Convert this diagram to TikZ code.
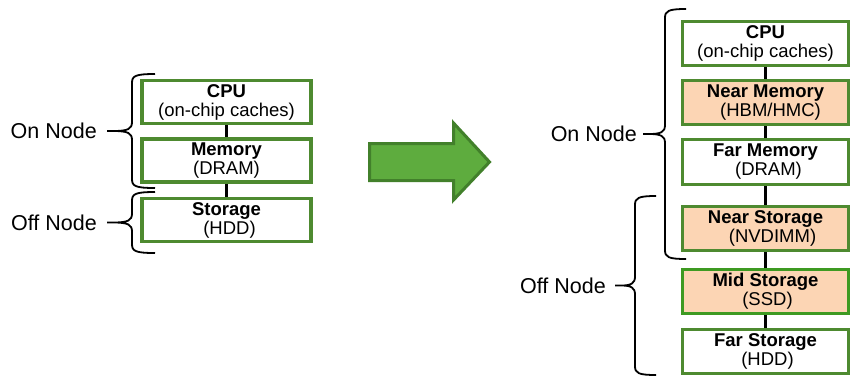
\documentclass[tikz,border=0pt]{standalone}
\usepackage{fontspec}
\setmainfont{Liberation Sans}
\definecolor{tierline}{HTML}{4E8A30}
\definecolor{tierlinebright}{HTML}{3E9A22}
\definecolor{peach}{HTML}{FCD5B4}
\definecolor{arrowfill}{HTML}{5EAC3E}
\definecolor{arrowedge}{HTML}{42802B}
% curly brace: line x, hook end x, tip x, top y, bottom y, name of tip coordinate
\newcommand{\tierbrace}[6]{%
  \pgfmathsetmacro{\bmid}{(#4+#5)/2}%
  \draw[bracepen] (#2,#4) .. controls (#1+3,#4) and (#1,#4+2) .. (#1,#4+9)
    -- (#1,\bmid-9) .. controls (#1,\bmid-2) and (#1-4,\bmid) .. (#3+6,\bmid) -- (#3,\bmid)
    (#3+6,\bmid) .. controls (#1-4,\bmid) and (#1,\bmid+2) .. (#1,\bmid+9)
    -- (#1,#5-9) .. controls (#1,#5-2) and (#1+3,#5) .. (#2,#5);
  \coordinate (#6) at (#3,\bmid);}
\begin{document}
\begin{tikzpicture}[x=1pt,y=-1pt,
  every node/.style={font=\fontsize{18.5}{19}\selectfont},
  tierbox/.style={draw=tierline,fill=white,rectangle,align=center,inner sep=0pt},
  oldtier/.style={tierbox,line width=3.6pt,minimum width=169.5pt,minimum height=43pt},
  newtier/.style={tierbox,line width=2.6pt,minimum width=166.5pt,minimum height=44.5pt},
  neartier/.style={newtier,fill=peach},
  link/.style={line width=3.4pt,black},
  bracepen/.style={line width=1.8pt,black},
  sidelabel/.style={anchor=east,inner sep=0pt,font=\fontsize{21.5}{22}\selectfont}]
\useasboundingbox (0,0) rectangle (851,376);

% three-tier node on the left
\node[oldtier] (cpuA) at (226.5,102) {\textbf{CPU}\\(on-chip caches)};
\node[oldtier] (memA) at (226.5,160.5) {\textbf{Memory}\\(DRAM)};
\node[oldtier] (stoA) at (226.5,220) {\textbf{Storage}\\\hspace{6pt}(HDD)};
\draw[link] (cpuA.south) -- (memA.north);
\draw[link] (memA.south) -- (stoA.north);

\tierbrace{132}{155}{107}{74}{188}{onA}
\tierbrace{132}{155}{107}{192}{253}{offA}
\node[sidelabel] (onAlabel) at ([xshift=-10pt]onA) {On Node};
\node[sidelabel] (offAlabel) at ([xshift=-10pt]offA) {Off Node};

% block arrow
\draw[arrowedge,fill=arrowfill,line width=3pt,line join=miter]
  (369.5,143.5) -- (453.5,143.5) -- (453.5,123) -- (489.5,162) -- (453.5,200)
  -- (453.5,180.5) -- (369.5,180.5) -- cycle;

% six-tier node on the right
\node[newtier]  (cpuB)  at (765.5,43.5)  {\textbf{CPU}\\(on-chip caches)};
\node[neartier] (nmemB) at (765.5,102.5) {\textbf{Near Memory}\\\hspace{10pt}(HBM/HMC)};
\node[newtier]  (fmemB) at (765.5,162)   {\textbf{Far Memory}\\\hspace{6pt}(DRAM)};
\node[neartier] (nstoB) at (765.5,228.5) {\textbf{Near Storage}\\\hspace{14pt}(NVDIMM)};
\node[neartier,draw=tierlinebright] (mstoB) at (765.5,291.5) {\textbf{Mid Storage}\\\hspace{4pt}(SSD)};
\node[newtier]  (fstoB) at (765.5,351.5) {\textbf{Far Storage}\\\hspace{4pt}(HDD)};
\draw[link] (cpuB.south) -- (nmemB.north);
\draw[link] (nmemB.south) -- (fmemB.north);
\draw[link] (fmemB.south) -- (nstoB.north);
\draw[link] (nstoB.south) -- (mstoB.north);
\draw[link] (mstoB.south) -- (fstoB.north);

\tierbrace{665}{686}{643}{9}{259}{onB}
\tierbrace{635}{656}{615}{196}{375}{offB}
\node[sidelabel] (onBlabel) at ([xshift=-6pt]onB) {On Node};
\node[sidelabel] (offBlabel) at ([xshift=-9pt]offB) {Off Node};
\end{tikzpicture}
\end{document}
